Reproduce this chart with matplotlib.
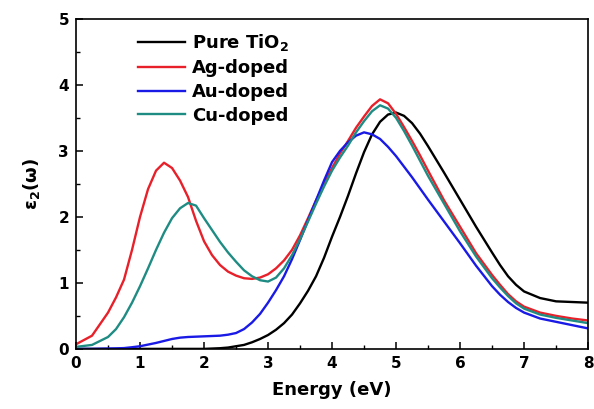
import matplotlib
matplotlib.use('Agg')
import matplotlib.pyplot as plt
from matplotlib.ticker import MultipleLocator

plt.rcParams['font.family'] = ['DejaVu Sans']
plt.rcParams['font.weight'] = 'bold'
plt.rcParams['mathtext.default'] = 'bf'

# photon energy (eV)
energy = [0.0, 0.25, 0.5, 0.625, 0.75, 0.875, 1.0, 1.125, 1.25, 1.375,
          1.5, 1.625, 1.75, 1.875, 2.0, 2.125, 2.25, 2.375, 2.5, 2.625,
          2.75, 2.875, 3.0, 3.125, 3.25, 3.375, 3.5, 3.625, 3.75, 3.875,
          4.0, 4.125, 4.25, 4.375, 4.5, 4.625, 4.75, 4.875, 5.0, 5.125,
          5.25, 5.375, 5.5, 5.75, 6.0, 6.25, 6.5, 6.625, 6.75, 6.875,
          7.0, 7.25, 7.5, 7.75, 8.0]

pure_tio2 = [0.0, 0.0, 0.0, 0.0, 0.0, 0.0, 0.0, 0.0, 0.0, 0.0,
             0.0, 0.0, 0.0, 0.0, 0.0, 0.005, 0.01, 0.02, 0.04, 0.06,
             0.10, 0.15, 0.21, 0.29, 0.39, 0.52, 0.69, 0.88, 1.10, 1.38,
             1.70, 2.00, 2.32, 2.66, 2.98, 3.25, 3.44, 3.55, 3.58, 3.53,
             3.42, 3.26, 3.07, 2.67, 2.26, 1.85, 1.46, 1.27, 1.10, 0.97,
             0.87, 0.77, 0.72, 0.71, 0.70]
ag_doped = [0.07, 0.20, 0.55, 0.78, 1.05, 1.50, 2.00, 2.42, 2.70, 2.82,
            2.74, 2.55, 2.30, 1.94, 1.63, 1.42, 1.27, 1.17, 1.11, 1.07,
            1.06, 1.08, 1.13, 1.22, 1.34, 1.50, 1.72, 1.98, 2.25, 2.50,
            2.74, 2.96, 3.15, 3.35, 3.52, 3.68, 3.78, 3.72, 3.56, 3.36,
            3.15, 2.93, 2.70, 2.25, 1.85, 1.45, 1.12, 0.97, 0.83, 0.72,
            0.64, 0.55, 0.50, 0.46, 0.43]
au_doped = [0.0, 0.0, 0.005, 0.008, 0.012, 0.025, 0.04, 0.065, 0.09, 0.12,
            0.15, 0.17, 0.18, 0.185, 0.19, 0.195, 0.20, 0.215, 0.24, 0.30,
            0.40, 0.53, 0.70, 0.89, 1.10, 1.36, 1.65, 1.95, 2.25, 2.55,
            2.83, 3.00, 3.13, 3.23, 3.28, 3.25, 3.18, 3.06, 2.92, 2.76,
            2.60, 2.43, 2.26, 1.93, 1.60, 1.26, 0.95, 0.82, 0.71, 0.62,
            0.55, 0.46, 0.41, 0.36, 0.31]
cu_doped = [0.03, 0.06, 0.18, 0.30, 0.48, 0.70, 0.95, 1.22, 1.50, 1.76,
            1.98, 2.13, 2.21, 2.17, 1.98, 1.80, 1.62, 1.46, 1.32, 1.19,
            1.10, 1.04, 1.02, 1.08, 1.22, 1.42, 1.66, 1.93, 2.20, 2.46,
            2.70, 2.90, 3.08, 3.28, 3.45, 3.60, 3.69, 3.64, 3.50, 3.30,
            3.08, 2.85, 2.62, 2.20, 1.78, 1.40, 1.07, 0.93, 0.80, 0.69,
            0.61, 0.52, 0.47, 0.43, 0.39]

labels = ['Pure TiO$_2$', 'Ag-doped', 'Au-doped', 'Cu-doped']
colors = ['black', '#e8202a', '#1a1ae6', '#1f8c84']

fig = plt.figure(figsize=(5.94, 4.09), dpi=100)
ax = fig.add_axes([0.128, 0.147, 0.862, 0.807])

for ys, lab, c in zip([pure_tio2, ag_doped, au_doped, cu_doped], labels, colors):
    ax.plot(energy, ys, color=c, lw=1.7, label=lab)

ax.set_xlim(0, 8)
ax.set_ylim(0, 5)
ax.xaxis.set_major_locator(MultipleLocator(1))
ax.xaxis.set_minor_locator(MultipleLocator(0.5))
ax.yaxis.set_major_locator(MultipleLocator(1))
ax.yaxis.set_minor_locator(MultipleLocator(0.5))
ax.tick_params(which='both', direction='in', top=False, right=False, labelsize=11)
ax.tick_params(which='major', length=5, width=1.1, pad=5)
ax.tick_params(which='minor', length=3, width=1.0)
for lbl in ax.get_xticklabels() + ax.get_yticklabels():
    lbl.set_fontweight('bold')
for s in ax.spines.values():
    s.set_linewidth(1.2)

ax.set_xlabel('Energy (eV)', fontsize=13, fontweight='bold', labelpad=7)
ax.set_ylabel('ε$_2$(ω)', fontsize=13, fontweight='bold', labelpad=12)

ax.legend(loc='upper left', bbox_to_anchor=(0.089, 1.008), frameon=False,
          handlelength=2.6, handletextpad=0.4, labelspacing=0.32,
          prop={'weight': 'bold', 'size': 13})

fig.savefig('out.png', dpi=100)
